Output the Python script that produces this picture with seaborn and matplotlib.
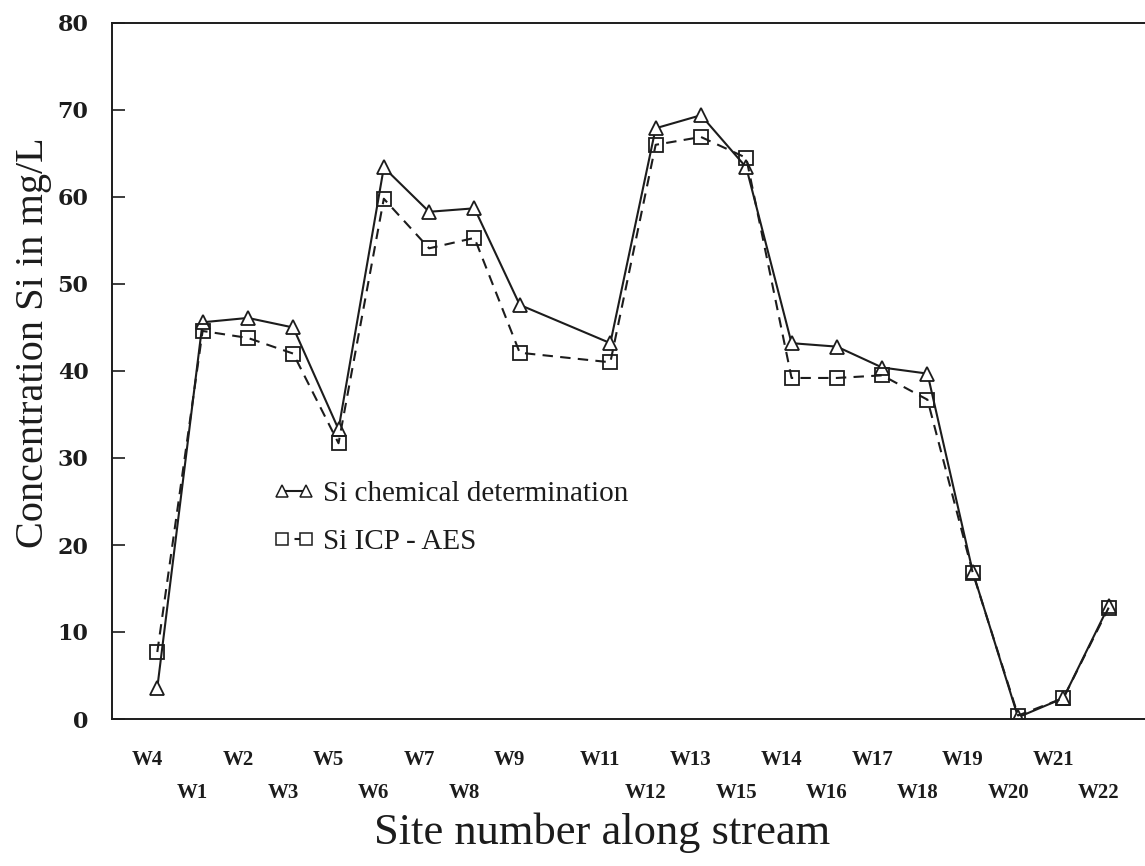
import matplotlib
matplotlib.use("Agg")
import matplotlib.pyplot as plt
import matplotlib.transforms as mtransforms
from matplotlib.lines import Line2D
from matplotlib.ticker import FixedLocator, FixedFormatter, MultipleLocator
import pandas as pd
import seaborn as sns

# Sampling sites in order along the stream (position 10 has no sample)
site_pos = [1, 2, 3, 4, 5, 6, 7, 8, 9, 11, 12, 13, 14, 15, 16, 17, 18, 19, 20, 21, 22]
site_labels = ["W4", "W1", "W2", "W3", "W5", "W6", "W7", "W8", "W9", "W11", "W12",
               "W13", "W15", "W14", "W16", "W17", "W18", "W19", "W20", "W21", "W22"]

# Si concentration (mg/L) by two methods
si_chemical = [3.6, 45.6, 46.1, 45.0, 33.3, 63.4, 58.3, 58.7, 47.6, 43.2, 67.9,
               69.4, 63.4, 43.2, 42.8, 40.4, 39.7, 16.9, 0.2, 2.4, 13.0]
si_icp = [7.7, 44.6, 43.8, 42.0, 31.7, 59.8, 54.1, 55.3, 42.1, 41.0, 66.0,
          66.9, 64.5, 39.2, 39.2, 39.5, 36.7, 16.8, 0.4, 2.4, 12.8]

y_ticks = [0, 10, 20, 30, 40, 50, 60, 70, 80]

df = pd.DataFrame({"site": site_pos, "chem": si_chemical, "icp": si_icp})

sns.set_style("white")
plt.rcParams["font.family"] = ["Liberation Serif", "DejaVu Serif"]

fig = plt.figure(figsize=(11.45, 8.66), dpi=100)
ax = fig.add_axes([112 / 1145, 1 - 719 / 866, 1042 / 1145, 696 / 866])

ink = "#1c1c1c"
lw = 1.5
sns.lineplot(data=df, x="site", y="chem", ax=ax, color=ink, lw=lw,
             marker="^", markersize=10, markerfacecolor="white",
             markeredgecolor=ink, markeredgewidth=1.3)
sns.lineplot(data=df, x="site", y="icp", ax=ax, color=ink, lw=lw,
             linestyle=(0, (5, 3.5)),
             marker="s", markersize=9.5, markerfacecolor="none",
             markeredgecolor=ink, markeredgewidth=1.3)

ax.set_xlim(0, 23)
ax.set_ylim(0, 80)

# frame: right side runs off the page
for side in ["left", "bottom", "top"]:
    ax.spines[side].set_color(ink)
    ax.spines[side].set_linewidth(1.4)
ax.spines["right"].set_visible(False)

# y axis
ax.set_yticks(y_ticks)
ax.set_yticklabels([str(v) for v in y_ticks], fontsize=16, fontweight="bold",
                   color=ink, family="DejaVu Serif")
ax.tick_params(axis="y", direction="in", length=9, width=1.2, color=ink, pad=17,
               left=True, right=False)

# x axis: short ticks at each site slot, long ticks every 5, labels staggered
ax.xaxis.remove_overlapping_locs = False
ax.xaxis.set_major_locator(MultipleLocator(5))
ax.xaxis.set_major_formatter(FixedFormatter([]))
all_slots = list(range(1, 23))
label_map = dict(zip(site_pos, site_labels))
ax.xaxis.set_minor_locator(FixedLocator(all_slots))
ax.xaxis.set_minor_formatter(FixedFormatter([label_map.get(p, "") for p in all_slots]))
ax.tick_params(axis="x", which="major", direction="in", length=10, width=1.2,
               color=ink, labelbottom=False)
ax.tick_params(axis="x", which="minor", direction="in", length=5, width=1.2,
               color=ink, pad=22, labelsize=15)
for lab, p in zip(ax.get_xticklabels(minor=True), all_slots):
    lab.set_fontweight("bold")
    lab.set_color(ink)
    shift = mtransforms.ScaledTranslation(-10 / 100, (-33 / 100) if p % 2 == 0 else 0.0,
                                          fig.dpi_scale_trans)
    lab.set_transform(lab.get_transform() + shift)

ax.set_xlabel("Site number along stream", fontsize=32, color=ink)
ax.xaxis.set_label_coords(0.470, -0.135)
ax.set_ylabel("Concentration Si in mg/L", fontsize=29, color=ink)
ax.yaxis.set_label_coords(-0.058, 0.54)

handles = [
    Line2D([], [], color=ink, lw=lw, marker="^", markersize=9,
           markerfacecolor="white", markeredgecolor=ink, markeredgewidth=1.1),
    Line2D([], [], color=ink, lw=lw, linestyle=(0, (3, 3)), marker="s", markersize=8.5,
           markerfacecolor="white", markeredgecolor=ink, markeredgewidth=1.1),
]
leg = ax.legend(handles, ["Si chemical determination", "Si ICP - AES"],
                loc="center left", bbox_to_anchor=(0.155, 0.289), frameon=False,
                numpoints=2, handlelength=1.4, handletextpad=0.3, labelspacing=0.75,
                borderpad=0, borderaxespad=0, prop={"size": 21})
for t in leg.get_texts():
    t.set_color(ink)

fig.savefig("out.png", dpi=100, facecolor="white")
